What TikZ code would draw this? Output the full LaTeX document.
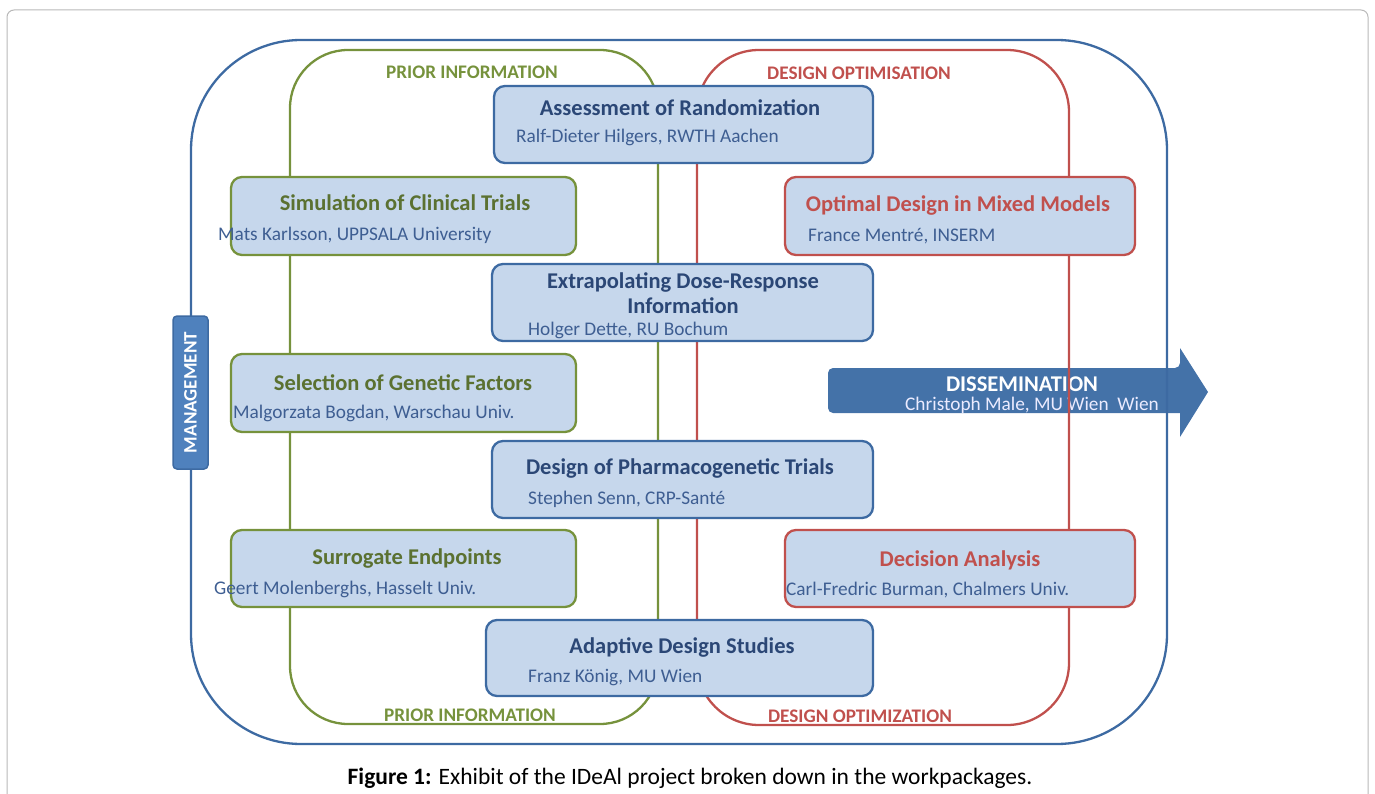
\documentclass[tikz,border=0pt]{standalone}
\usepackage{fontspec}
\setmainfont{Carlito}
\usetikzlibrary{positioning}
\definecolor{mgmtblue}{HTML}{3D6AA2}
\definecolor{priorgreen}{HTML}{76923C}
\definecolor{designred}{HTML}{C0504D}
\definecolor{boxfill}{HTML}{C6D7EC}
\definecolor{titleblue}{HTML}{2B4776}
\definecolor{subblue}{HTML}{3E5E92}
\definecolor{titlegreen}{HTML}{5B7131}
\definecolor{dissfill}{HTML}{4472A8}
\definecolor{mgmtfill}{HTML}{4F81BD}

\tikzset{
  wpbox/.style={draw=mgmtblue, fill=boxfill, rounded corners=11, line width=2.3pt},
  wptitle/.style={font=\fontsize{22.5}{25}\selectfont\bfseries, text=titleblue, align=center, inner sep=0pt},
  wpsub/.style={font=\fontsize{19.3}{22}\selectfont, text=subblue, anchor=west, inner sep=0pt},
  grouplabel/.style={font=\fontsize{19.2}{22}\selectfont\bfseries, inner sep=0pt}
}

\begin{document}
\begin{tikzpicture}[x=1pt, y=-1pt]
\useasboundingbox (0,0) rectangle (1375,794);
% frame
\draw[gray!55, line width=1pt, rounded corners=7] (7,800) -- (7,10) -- (1368,10) -- (1368,800);

% dissemination arrow (behind the group lines)
\fill[dissfill] (1180,368) -- (1180,348) -- (1208,392) -- (1180,437) -- (1180,413)
  [rounded corners=5] -- (828,413) -- (828,368) -- cycle;
\node[font=\fontsize{22.5}{25}\selectfont\bfseries, text=white, inner sep=0pt] (dissT) at (1022,384) {DISSEMINATION};
\node[font=\fontsize{19.3}{22}\selectfont, text=white!92!blue, inner sep=0pt] (dissS) at (1032,405) {Christoph Male, MU Wien\ \ Wien};

% groups
\draw[mgmtblue, line width=2.3pt, rounded corners=110] (191,40) rectangle (1167,744);
\draw[priorgreen, line width=2.3pt, rounded corners=58] (290,50) rectangle (658,724);
\draw[designred, line width=2.3pt, rounded corners=62] (697,50) rectangle (1069,725);

\node[grouplabel, text=priorgreen] (priorTop) at (472,72) {PRIOR INFORMATION};
\node[grouplabel, text=designred] (designTop) at (859,73) {DESIGN OPTIMISATION};
\node[grouplabel, text=priorgreen] (priorBot) at (470,715) {PRIOR INFORMATION};
\node[grouplabel, text=designred] (designBot) at (860,716) {DESIGN OPTIMIZATION};

% work packages, middle column
\node[wpbox, minimum width=379, minimum height=77] (rand) at (683.5,124.5) {};
\node[wptitle] (randT) at (680,108) {Assessment of Randomization};
\node[wpsub] (randS) at (516,137) {Ralf-Dieter Hilgers, RWTH Aachen};

\node[wpbox, minimum width=381, minimum height=77] (dose) at (682.5,302.5) {};
\node[wptitle] (doseT) at (683,293.5) {Extrapolating Dose-Response\\Information};
\node[wpsub] (doseS) at (528,330) {Holger Dette, RU Bochum};

\node[wpbox, minimum width=381, minimum height=77] (pharm) at (682.5,479.5) {};
\node[wptitle] (pharmT) at (680,468) {Design of Pharmacogenetic Trials};
\node[wpsub] (pharmS) at (528,499) {Stephen Senn, CRP-Santé};

\node[wpbox, minimum width=387, minimum height=76] (adapt) at (679.5,658) {};
\node[wptitle] (adaptT) at (682,647) {Adaptive Design Studies};
\node[wpsub] (adaptS) at (528,678) {Franz König, MU Wien};

% prior information column
\node[wpbox, draw=priorgreen, minimum width=345, minimum height=78] (sim) at (403.5,216) {};
\node[wptitle, text=titlegreen] (simT) at (405,203) {Simulation of Clinical Trials};
\node[wpsub] (simS) at (218,235) {Mats Karlsson, UPPSALA University};

\node[wpbox, draw=priorgreen, minimum width=345, minimum height=78] (gene) at (403.5,393) {};
\node[wptitle, text=titlegreen] (geneT) at (403,383) {Selection of Genetic Factors};
\node[wpsub] (geneS) at (233,413) {Malgorzata Bogdan, Warschau Univ.};

\node[wpbox, draw=priorgreen, minimum width=345, minimum height=77] (surr) at (403.5,568.5) {};
\node[wptitle, text=titlegreen] (surrT) at (407,559) {Surrogate Endpoints};
\node[wpsub] (surrS) at (214,589) {Geert Molenberghs, Hasselt Univ.};

% design optimisation column
\node[wpbox, draw=designred, minimum width=350, minimum height=78] (mixed) at (960,216) {};
\node[wptitle, text=designred] (mixedT) at (958,205) {Optimal Design in Mixed Models};
\node[wpsub] (mixedS) at (808,236) {France Mentré, INSERM};

\node[wpbox, draw=designred, minimum width=350, minimum height=77] (dec) at (960,568.5) {};
\node[wptitle, text=designred] (decT) at (960,560) {Decision Analysis};
\node[wpsub] (decS) at (786,590) {Carl-Fredric Burman, Chalmers Univ.};

% management
\node[draw=mgmtblue, fill=mgmtfill, line width=1.5pt, rounded corners=4, rotate=90,
  minimum width=153, minimum height=35, text=white,
  font=\fontsize{19}{22}\selectfont\bfseries] (mgmt) at (190.5,392.5) {MANAGEMENT};

% caption
\node[font=\fontsize{23.5}{26}\selectfont, inner sep=0pt] (caption) at (690,778)
  {\textbf{Figure 1:} Exhibit of the IDeAl project broken down in the workpackages.};
\end{tikzpicture}
\end{document}
